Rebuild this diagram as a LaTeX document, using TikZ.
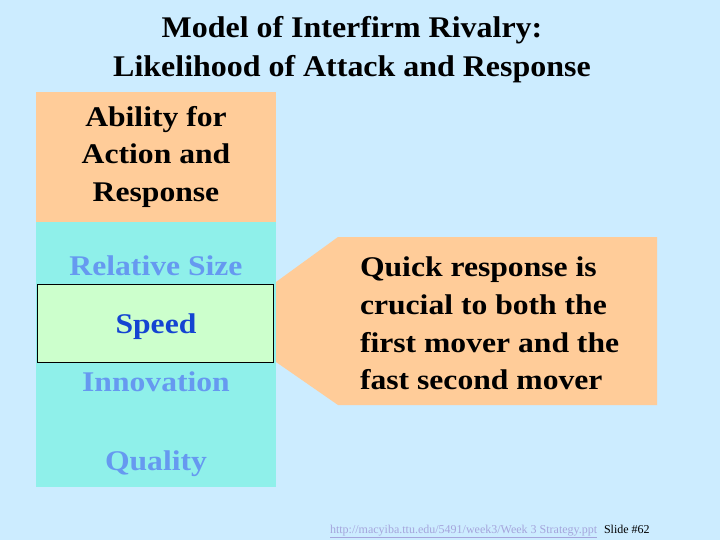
\documentclass[tikz,border=0pt]{standalone}
\usepackage{fontspec}
\setmainfont{Liberation Serif}
\newfontfamily\ttlfont[FakeStretch=1.065]{Liberation Serif}
\newfontfamily\bodyfont[FakeStretch=1.11]{Liberation Serif}
\begin{document}
\begin{tikzpicture}[x=1pt,y=-1pt,
  every node/.style={inner sep=0pt,outer sep=0pt},
  ttl/.style={font=\ttlfont\fontsize{30}{36}\selectfont\bfseries,anchor=base},
  big/.style={font=\bodyfont\fontsize{28.5}{37.7}\selectfont\bfseries},
  item/.style={big,anchor=base,text=itemblue}]
\definecolor{bg}{RGB}{204,236,255}
\definecolor{peach}{RGB}{255,204,153}
\definecolor{aqua}{RGB}{143,240,234}
\definecolor{mint}{RGB}{204,255,204}
\definecolor{itemblue}{RGB}{102,153,240}
\definecolor{speedblue}{RGB}{20,68,210}
\definecolor{linkc}{RGB}{165,165,220}
\fill[bg] (0,0) rectangle (720,540);
\useasboundingbox (0,0) rectangle (720,540);
% title
\node[ttl] (t1) at (352,38) {Model of Interfirm Rivalry:};
\node[ttl] (t2) at (352,77) {Likelihood of Attack and Response};
% left column
\fill[peach] (36,92) rectangle (276,222);
\fill[aqua] (36,222) rectangle (276,487);
\node[big,align=center,anchor=north] (abil) at (156,106) {Ability for\\Action and\\Response};
\node[item] (rel) at (156,275) {Relative Size};
\node[draw=black,line width=1.6pt,fill=mint,minimum width=236pt,minimum height=78pt] (spbox) at (155.5,323.5) {};
\node[item,text=speedblue] (speed) at (156,333) {Speed};
\node[item] (inno) at (156,391) {Innovation};
\node[item] (qual) at (156,470) {Quality};
% callout
\fill[peach] (338,237) -- (657,237) -- (657,405) -- (338,405) -- (276,362) -- (276,282) -- cycle;
\node[big,align=left,anchor=north west] (quick) at (360,257) {Quick response is\\crucial to both the\\first mover and the\\fast second mover};
% footer
\node[font=\fontsize{12}{14}\selectfont,text=linkc,anchor=base west] (url) at (330,533) {\underline{http://macyiba.ttu.edu/5491/week3/Week 3 Strategy.ppt}};
\node[font=\fontsize{12}{14}\selectfont,anchor=base west] (slide) at (604,533) {Slide \#62};
\end{tikzpicture}
\end{document}
